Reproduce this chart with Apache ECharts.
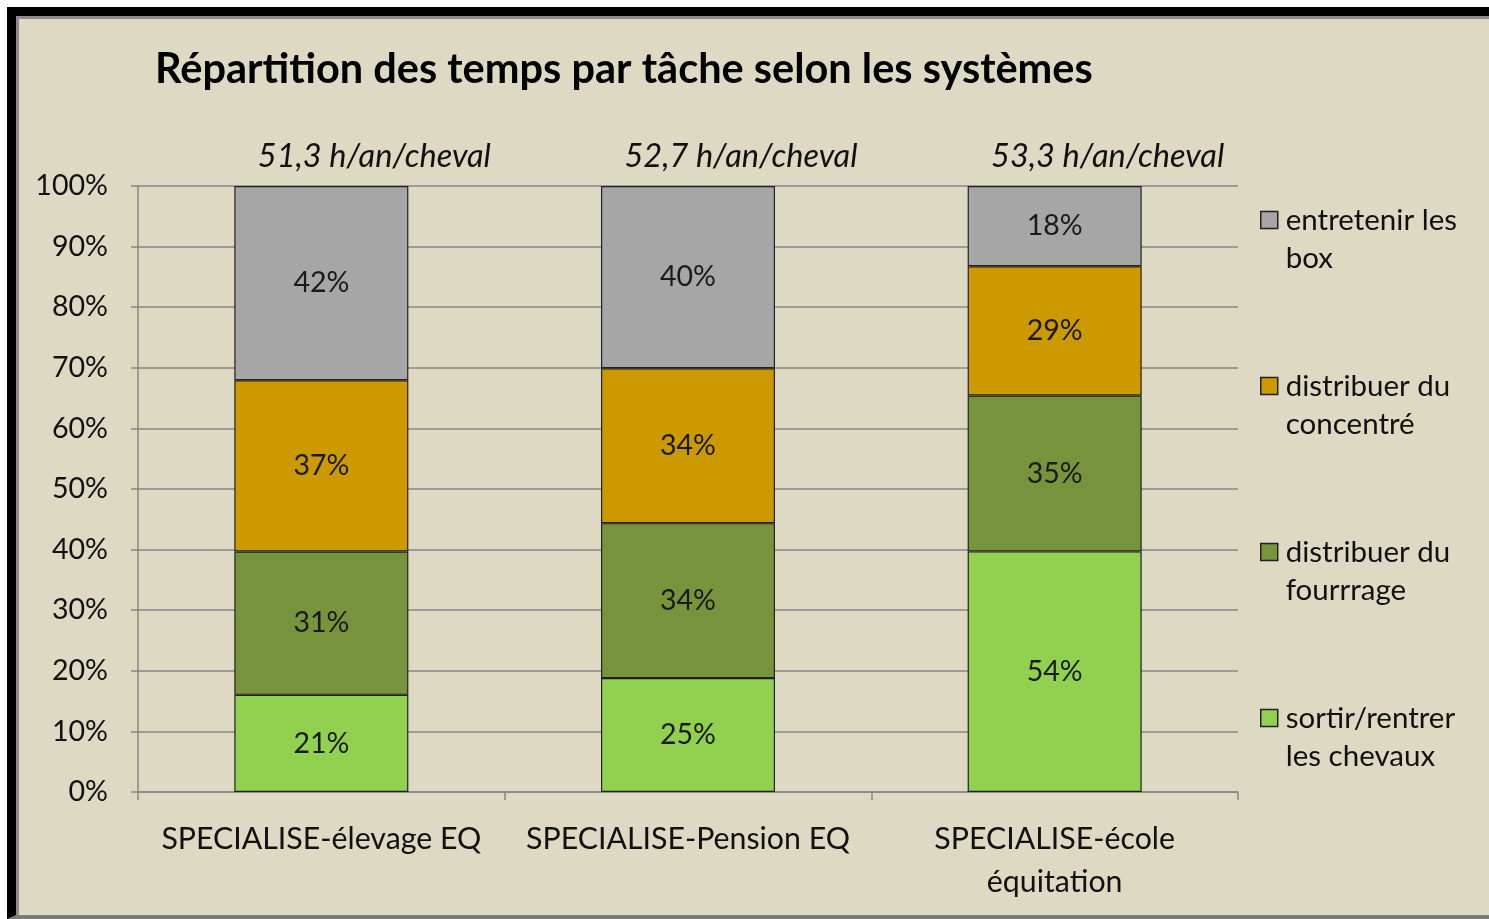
<!DOCTYPE html>
<html><head><meta charset="utf-8">
<script src="https://cdn.jsdelivr.net/npm/echarts@6/dist/echarts.min.js"></script>
<style>
html,body{margin:0;padding:0;background:#fff;width:1489px;height:919px;overflow:hidden}
#frame{position:absolute;left:7px;top:7px;width:1500px;height:899px;background:#DDD9C3;border-left:9px solid #000;border-top:9px solid #000;border-bottom:4px solid #7a7a7a;box-shadow:inset 3px 3px 0 #8c8c8c}
#chart{position:absolute;left:0;top:0;width:1489px;height:919px}
</style></head>
<body>
<div id="frame"></div>
<div id="chart"></div>
<script>
const categories = ['SPECIALISE-élevage EQ', 'SPECIALISE-Pension EQ', 'SPECIALISE-école\néquitation'];
const totals = ['51,3 h/an/cheval', '52,7 h/an/cheval', '53,3 h/an/cheval'];
const seriesNames = ['sortir/rentrer\nles chevaux', 'distribuer du\nfourrrage', 'distribuer du\nconcentré', 'entretenir les\nbox'];
const sortir = [21, 25, 54];
const fourrage = [31, 34, 35];
const concentre = [37, 34, 29];
const entretenir = [42, 40, 18];
const yTicks = [0, 10, 20, 30, 40, 50, 60, 70, 80, 90, 100];
const colors = ['#92D050', '#77933C', '#CC9900', '#A6A6A6'];

const raw = [sortir, fourrage, concentre, entretenir];
const sums = categories.map((c, i) => raw.reduce((s, a) => s + a[i], 0));
const font = 'Lato';

const chart = echarts.init(document.getElementById('chart'), null, {renderer: 'canvas'});
chart.setOption({
  backgroundColor: 'transparent',
  animation: false,
  title: {
    text: 'Répartition des temps par tâche selon les systèmes',
    left: 150, top: 44,
    textStyle: {fontFamily: font, fontWeight: 'bold', fontSize: 41.5, color: '#000'}
  },
  legend: {
    orient: 'vertical', left: 1260, top: 201, padding: 0,
    data: seriesNames.slice().reverse(),
    itemWidth: 20, itemHeight: 55, itemGap: 90,
    icon: 'path://M0,0L17,0L17,17L0,17Z M20,55L20.01,55',
    itemStyle: {borderColor: '#222', borderWidth: 1.5},
    textStyle: {fontFamily: font, fontSize: 29.5, color: '#111', lineHeight: 38}
  },
  grid: {left: 138, right: 251, top: 186, bottom: 127},
  xAxis: [{
    type: 'category', data: categories, position: 'bottom',
    axisLine: {lineStyle: {color: '#868686', width: 1.5}},
    axisTick: {show: true, length: 8, lineStyle: {color: '#868686', width: 1.5}},
    axisLabel: {fontFamily: font, fontSize: 30.3, color: '#111', margin: 26, lineHeight: 43, interval: 0}
  }, {
    type: 'category', data: totals, position: 'top',
    axisLine: {show: false}, axisTick: {show: false},
    axisLabel: {fontFamily: font, fontStyle: 'italic', fontSize: 32.5, color: '#111', margin: 13, interval: 0, padding: [0, 0, 0, 106]}
  }],
  yAxis: {
    type: 'value', min: 0, max: 100, interval: 10,
    axisLine: {show: true, lineStyle: {color: '#868686', width: 1.5}},
    axisTick: {show: true, length: 7, lineStyle: {color: '#868686', width: 1.5}},
    splitLine: {lineStyle: {color: '#868686', width: 1.5}},
    axisLabel: {fontFamily: font, fontSize: 28.6, color: '#111', margin: 30,
      formatter: v => yTicks.includes(v) ? v + '%' : ''}
  },
  series: raw.map((arr, k) => ({
    name: seriesNames[k], type: 'bar', stack: 'total', barWidth: 174,
    xAxisIndex: 0,
    itemStyle: {color: colors[k], borderColor: '#222', borderWidth: 1.2},
    label: {show: true, position: 'inside', fontFamily: font, fontSize: 28.5, color: '#1a1a1a',
      formatter: p => arr[p.dataIndex] + '%'},
    data: arr.map((v, i) => v / sums[i] * 100)
  }))
});
</script>
</body></html>
